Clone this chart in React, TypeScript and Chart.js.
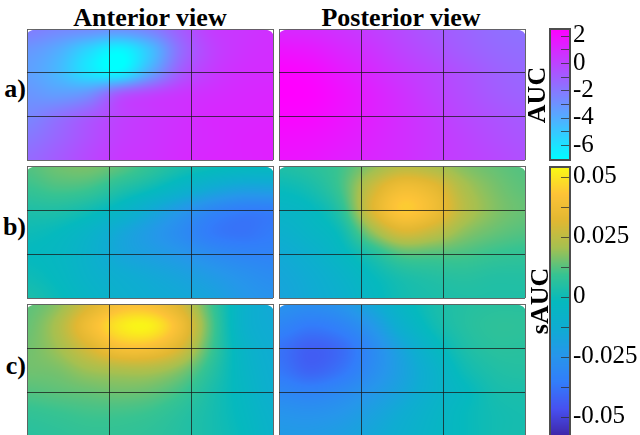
import React, { useEffect, useRef } from 'react';
import { Chart, registerables } from 'chart.js';
Chart.register(...registerables);

// ---------- data ----------
const VIEWS = ['Anterior view', 'Posterior view'];
const ROW_LABELS = ['a)', 'b)', 'c)'];
const GRID_LINES = [0, 1, 2, 3];

const AUC_TICKS = [2, 0, -2, -4, -6];
const AUC_LABELS = ['2', '0', '-2', '-4', '-6'];
const AUC_MINOR = [2, 1, 0, -1, -2, -3, -4, -5, -6, -7];
const AUC_RANGE = [-7.1, 2.5];

const SAUC_TICKS = [0.05, 0.025, 0, -0.025, -0.05];
const SAUC_LABELS = ['0.05', '0.025', '0', '-0.025', '-0.05'];
const SAUC_MINOR = [0.05, 0.0375, 0.025, 0.0125, 0, -0.0125, -0.025, -0.0375, -0.05];
const SAUC_RANGE = [-0.058, 0.054];

// rows top -> bottom, 9 columns left -> right
const AUC_ANTERIOR = [
  [-2.2, -2.6, -2.8, -3.0, -2.4, -1.0, 0.2, 0.5, 0.7],
  [-3.2, -4.0, -5.6, -6.8, -4.8, -1.6, 0.0, 0.6, 0.8],
  [-3.5, -4.4, -6.0, -6.6, -3.8, -0.9, 0.3, 0.8, 0.9],
  [-3.1, -3.4, -2.9, -0.8, 0.0, 0.5, 0.8, 1.0, 1.1],
  [-2.6, -1.8, -0.9, 0.0, 0.4, 0.7, 1.0, 1.1, 1.2],
  [-2.0, -1.3, -0.5, 0.2, 0.5, 0.8, 1.0, 1.2, 1.3],
  [-1.5, -0.9, -0.2, 0.4, 0.6, 0.9, 1.1, 1.2, 1.3],
];
const AUC_POSTERIOR = [
  [1.0, 0.9, 0.6, 0.2, -0.3, -0.8, -1.2, -1.6, -1.8],
  [1.8, 1.6, 1.1, 0.6, 0.0, -0.5, -1.0, -1.4, -1.6],
  [2.4, 2.2, 1.6, 1.0, 0.4, -0.1, -0.6, -1.1, -1.4],
  [2.5, 2.4, 1.9, 1.3, 0.7, 0.1, -0.4, -0.9, -1.2],
  [2.3, 2.2, 1.8, 1.3, 0.8, 0.3, -0.2, -0.6, -0.9],
  [2.0, 1.9, 1.6, 1.2, 0.8, 0.4, 0.0, -0.4, -0.7],
  [1.8, 1.7, 1.4, 1.1, 0.8, 0.4, 0.1, -0.2, -0.5],
];
const SAUC_B_ANTERIOR = [
  [0.012, 0.015, 0.016, 0.013, 0.008, 0.003, 0.000, -0.002, -0.003],
  [0.009, 0.011, 0.010, 0.005, 0.000, -0.007, -0.014, -0.018, -0.018],
  [0.004, 0.004, 0.001, -0.005, -0.014, -0.023, -0.031, -0.035, -0.035],
  [0.000, -0.002, -0.007, -0.015, -0.022, -0.029, -0.036, -0.038, -0.036],
  [-0.002, -0.004, -0.009, -0.016, -0.020, -0.024, -0.029, -0.032, -0.033],
  [0.000, -0.003, -0.008, -0.012, -0.015, -0.018, -0.022, -0.026, -0.029],
  [0.003, -0.001, -0.006, -0.010, -0.013, -0.015, -0.018, -0.023, -0.026],
];
const SAUC_B_POSTERIOR = [
  [0.004, 0.006, 0.010, 0.018, 0.024, 0.022, 0.017, 0.014, 0.012],
  [-0.001, 0.002, 0.010, 0.027, 0.038, 0.034, 0.022, 0.016, 0.013],
  [-0.006, -0.003, 0.006, 0.030, 0.044, 0.038, 0.024, 0.017, 0.014],
  [-0.010, -0.006, 0.000, 0.018, 0.030, 0.026, 0.018, 0.014, 0.012],
  [-0.014, -0.010, -0.004, 0.004, 0.012, 0.012, 0.011, 0.009, 0.008],
  [-0.016, -0.013, -0.008, -0.002, 0.003, 0.005, 0.006, 0.005, 0.005],
  [-0.017, -0.014, -0.010, -0.004, 0.001, 0.003, 0.004, 0.004, 0.004],
];
const SAUC_C_ANTERIOR = [
  [0.013, 0.018, 0.030, 0.040, 0.040, 0.030, 0.010, -0.008, -0.015],
  [0.014, 0.022, 0.038, 0.050, 0.052, 0.038, 0.012, -0.008, -0.014],
  [0.015, 0.020, 0.030, 0.040, 0.040, 0.030, 0.010, -0.006, -0.013],
  [0.015, 0.016, 0.020, 0.022, 0.022, 0.017, 0.006, -0.005, -0.012],
  [0.012, 0.013, 0.014, 0.015, 0.014, 0.010, 0.003, -0.004, -0.011],
  [0.008, 0.009, 0.010, 0.010, 0.009, 0.006, 0.002, -0.003, -0.009],
  [0.006, 0.007, 0.008, 0.008, 0.007, 0.005, 0.002, -0.002, -0.008],
];
const SAUC_C_POSTERIOR = [
  [-0.026, -0.028, -0.025, -0.016, -0.005, 0.002, 0.005, 0.006, 0.006],
  [-0.032, -0.036, -0.033, -0.024, -0.010, 0.000, 0.005, 0.007, 0.007],
  [-0.038, -0.043, -0.040, -0.030, -0.017, -0.005, 0.003, 0.006, 0.006],
  [-0.037, -0.042, -0.038, -0.029, -0.019, -0.009, 0.000, 0.004, 0.005],
  [-0.031, -0.033, -0.030, -0.024, -0.017, -0.009, -0.003, 0.002, 0.003],
  [-0.025, -0.026, -0.024, -0.019, -0.013, -0.007, -0.002, 0.001, 0.002],
  [-0.022, -0.022, -0.020, -0.016, -0.011, -0.006, -0.002, 0.001, 0.002],
];

// ---------- colormaps ----------
const PARULA_STOPS: number[][] = [
  [0.0, 62, 38, 168],
  [0.1, 71, 80, 240],
  [0.2, 50, 125, 250],
  [0.3, 38, 150, 235],
  [0.4, 15, 172, 210],
  [0.5, 5, 185, 190],
  [0.6, 55, 195, 145],
  [0.7, 165, 192, 80],
  [0.8, 225, 183, 50],
  [0.9, 253, 195, 55],
  [1.0, 249, 250, 20],
];
function clamp01(t: number) { return t < 0 ? 0 : t > 1 ? 1 : t; }
function cool(t: number): number[] {
  t = clamp01(t);
  return [255 * t, 255 * (1 - t), 255];
}
function parula(t: number): number[] {
  t = clamp01(t);
  for (let i = 1; i < PARULA_STOPS.length; i++) {
    const a = PARULA_STOPS[i - 1], b = PARULA_STOPS[i];
    if (t <= b[0]) {
      const f = (t - a[0]) / (b[0] - a[0]);
      return [a[1] + f * (b[1] - a[1]), a[2] + f * (b[2] - a[2]), a[3] + f * (b[3] - a[3])];
    }
  }
  const l = PARULA_STOPS[PARULA_STOPS.length - 1];
  return [l[1], l[2], l[3]];
}

function cubic(p0: number, p1: number, p2: number, p3: number, t: number) {
  return p1 + 0.5 * t * (p2 - p0 + t * (2 * p0 - 5 * p1 + 4 * p2 - p3 + t * (3 * (p1 - p2) + p3 - p0)));
}
function sampleGrid(grid: number[][], gx: number, gy: number) {
  const nr = grid.length, nc = grid[0].length;
  const ix = Math.floor(gx), iy = Math.floor(gy);
  const fx = gx - ix, fy = gy - iy;
  const at = (r: number, c: number) => grid[Math.max(0, Math.min(nr - 1, r))][Math.max(0, Math.min(nc - 1, c))];
  const col: number[] = [];
  for (let k = -1; k <= 2; k++) col.push(cubic(at(iy + k, ix - 1), at(iy + k, ix), at(iy + k, ix + 1), at(iy + k, ix + 2), fx));
  return cubic(col[0], col[1], col[2], col[3], fy);
}

const SERIF = "'Liberation Serif', serif";
Chart.defaults.font.family = SERIF;

// ---------- panel ----------
function Panel({ x, y, w, h, grid, cmap, range }: any) {
  const ref = useRef<HTMLCanvasElement>(null);
  useEffect(() => {
    const heat = {
      id: 'heat',
      beforeDraw(chart: any) {
        const { ctx } = chart;
        const xs = chart.scales.x, ys = chart.scales.y;
        const x0 = Math.round(xs.getPixelForValue(0)), x1 = Math.round(xs.getPixelForValue(3));
        const y0 = Math.round(ys.getPixelForValue(0)), y1 = Math.round(ys.getPixelForValue(3));
        const W = x1 - x0, H = y1 - y0;
        const img = ctx.createImageData(W, H);
        const nr = grid.length, nc = grid[0].length;
        for (let py = 0; py < H; py++) {
          const v = Math.max(0, Math.min(3, ys.getValueForPixel(y0 + py + 0.5)));
          const gy = (v / 3) * (nr - 1);
          for (let px = 0; px < W; px++) {
            const u = Math.max(0, Math.min(3, xs.getValueForPixel(x0 + px + 0.5)));
            const gx = (u / 3) * (nc - 1);
            const val = sampleGrid(grid, gx, gy);
            const c = cmap((val - range[0]) / (range[1] - range[0]));
            const o = (py * W + px) * 4;
            img.data[o] = c[0]; img.data[o + 1] = c[1]; img.data[o + 2] = c[2]; img.data[o + 3] = 255;
          }
        }
        ctx.putImageData(img, x0, y0);
        // rounded top corners of the surface
        ctx.save();
        ctx.fillStyle = '#fff';
        ctx.beginPath();
        ctx.moveTo(x0, y0); ctx.lineTo(x0, y0 + 5);
        ctx.quadraticCurveTo(x0 + 2, y0, x0 + 15, y0); ctx.closePath(); ctx.fill();
        ctx.beginPath();
        ctx.moveTo(x1, y0); ctx.lineTo(x1, y0 + 5);
        ctx.quadraticCurveTo(x1 - 2, y0, x1 - 15, y0); ctx.closePath(); ctx.fill();
        ctx.restore();
      },
    };
    const gridColor = (c: any) => {
      const v = c.tick ? c.tick.value : -1;
      return v === 0 || v === 3 ? 'rgba(95,95,95,0.95)' : 'rgba(25,25,25,0.75)';
    };
    const axis = (reverse: boolean) => ({
      type: 'linear', min: 0, max: 3, reverse,
      afterBuildTicks: (s: any) => { s.ticks = GRID_LINES.map((v) => ({ value: v })); },
      ticks: { display: false },
      grid: { color: gridColor, lineWidth: 1, drawTicks: false },
      border: { display: false },
    });
    const chart = new Chart(ref.current as HTMLCanvasElement, {
      type: 'scatter',
      data: { datasets: [] },
      options: {
        animation: false, responsive: false, events: [],
        layout: { padding: 1 },
        plugins: { legend: { display: false }, tooltip: { enabled: false } },
        scales: { x: axis(false) as any, y: axis(true) as any },
      },
      plugins: [heat],
    });
    return () => chart.destroy();
  }, []);
  return (
    <canvas ref={ref} width={w + 2} height={h + 2}
      style={{ position: 'absolute', left: x - 1, top: y - 1, width: w + 2, height: h + 2 }} />
  );
}

// ---------- colorbar ----------
function Colorbar({ x, y, w, h, cmap, range, ticks, labels, minor }: any) {
  const ref = useRef<HTMLCanvasElement>(null);
  const PAD = 25, AXW = 70;
  useEffect(() => {
    const bar = {
      id: 'cbar',
      beforeDraw(chart: any) {
        const { ctx, chartArea: a } = chart;
        const s = chart.scales.y;
        for (let py = Math.round(a.top); py < Math.round(a.bottom); py++) {
          const v = s.getValueForPixel(py + 0.5);
          const c = cmap((v - range[0]) / (range[1] - range[0]));
          ctx.fillStyle = `rgb(${Math.round(c[0])},${Math.round(c[1])},${Math.round(c[2])})`;
          ctx.fillRect(a.left, py, a.right - a.left, 1);
        }
      },
      afterDraw(chart: any) {
        const { ctx, chartArea: a } = chart;
        const s = chart.scales.y;
        ctx.save();
        ctx.strokeStyle = 'rgba(45,45,45,0.75)';
        ctx.lineWidth = 1;
        for (const v of minor) {
          const py = Math.round(s.getPixelForValue(v)) + 0.5;
          ctx.beginPath(); ctx.moveTo(a.right - 9, py); ctx.lineTo(a.right, py); ctx.stroke();
        }
        ctx.strokeStyle = '#4d4d4d';
        ctx.lineWidth = 2;
        ctx.strokeRect(a.left, a.top, a.right - a.left, a.bottom - a.top);
        ctx.restore();
      },
    };
    const chart = new Chart(ref.current as HTMLCanvasElement, {
      type: 'scatter',
      data: { datasets: [] },
      options: {
        animation: false, responsive: false, events: [],
        layout: { padding: { left: 1, right: 0, top: PAD, bottom: PAD } },
        plugins: { legend: { display: false }, tooltip: { enabled: false } },
        scales: {
          x: { display: false, min: 0, max: 1 },
          y: {
            type: 'linear', position: 'right', min: range[0], max: range[1],
            afterBuildTicks: (s: any) => { s.ticks = ticks.map((v: number) => ({ value: v })); },
            afterFit: (s: any) => { s.width = AXW; },
            ticks: {
              autoSkip: false, padding: 3, color: '#000',
              font: { family: SERIF, size: 25, weight: 'normal' },
              callback: (v: number) => labels[ticks.indexOf(v)],
            },
            grid: { display: false, drawTicks: false },
            border: { display: false },
          } as any,
        },
      },
      plugins: [bar],
    });
    return () => chart.destroy();
  }, []);
  const cw = 1 + w + AXW, ch = h + 2 * PAD;
  return (
    <canvas ref={ref} width={cw} height={ch}
      style={{ position: 'absolute', left: x - 1, top: y - PAD, width: cw, height: ch }} />
  );
}

const textBase: any = { position: 'absolute', fontFamily: SERIF, fontWeight: 'bold', fontSize: 26, lineHeight: '26px', color: '#000', whiteSpace: 'nowrap' };

export default function App() {
  useEffect(() => {
    document.body.style.margin = '0';
    document.body.style.overflow = 'hidden';
  }, []);
  const colX = [27, 279];
  const rowY = [29, 166, 304];
  const rowH = [131, 132, 132];
  const grids = [
    [AUC_ANTERIOR, AUC_POSTERIOR],
    [SAUC_B_ANTERIOR, SAUC_B_POSTERIOR],
    [SAUC_C_ANTERIOR, SAUC_C_POSTERIOR],
  ];
  const titleCx = [150, 401];
  const labelBase = [98, 236, 375];
  return (
    <div style={{ position: 'fixed', left: 0, top: 0, width: 640, height: 435, overflow: 'hidden', background: '#fff' }}>
      {VIEWS.map((t, i) => (
        <div key={t} style={{ ...textBase, left: titleCx[i] - 150, width: 300, top: 5, textAlign: 'center' }}>{t}</div>
      ))}
      {ROW_LABELS.map((t, i) => (
        <div key={t} style={{ ...textBase, left: 0, width: 26, top: labelBase[i] - 22, textAlign: 'right' }}>{t}</div>
      ))}
      {grids.map((row, r) => row.map((g, c) => (
        <Panel key={`${r}-${c}`} x={colX[c]} y={rowY[r]} w={246} h={rowH[r]} grid={g}
          cmap={r === 0 ? cool : parula} range={r === 0 ? AUC_RANGE : SAUC_RANGE} />
      )))}
      <Colorbar x={550} y={29} w={20} h={131} cmap={cool} range={AUC_RANGE}
        ticks={AUC_TICKS} labels={AUC_LABELS} minor={AUC_MINOR} />
      <Colorbar x={550} y={167} w={20} h={269} cmap={parula} range={SAUC_RANGE}
        ticks={SAUC_TICKS} labels={SAUC_LABELS} minor={SAUC_MINOR} />
      <div style={{ ...textBase, left: 537 - 60, width: 120, top: 94.5 - 13, height: 26, textAlign: 'center', transform: 'rotate(-90deg)' }}>AUC</div>
      <div style={{ ...textBase, left: 540 - 60, width: 120, top: 300.5 - 13, height: 26, textAlign: 'center', transform: 'rotate(-90deg)' }}>sAUC</div>
    </div>
  );
}
